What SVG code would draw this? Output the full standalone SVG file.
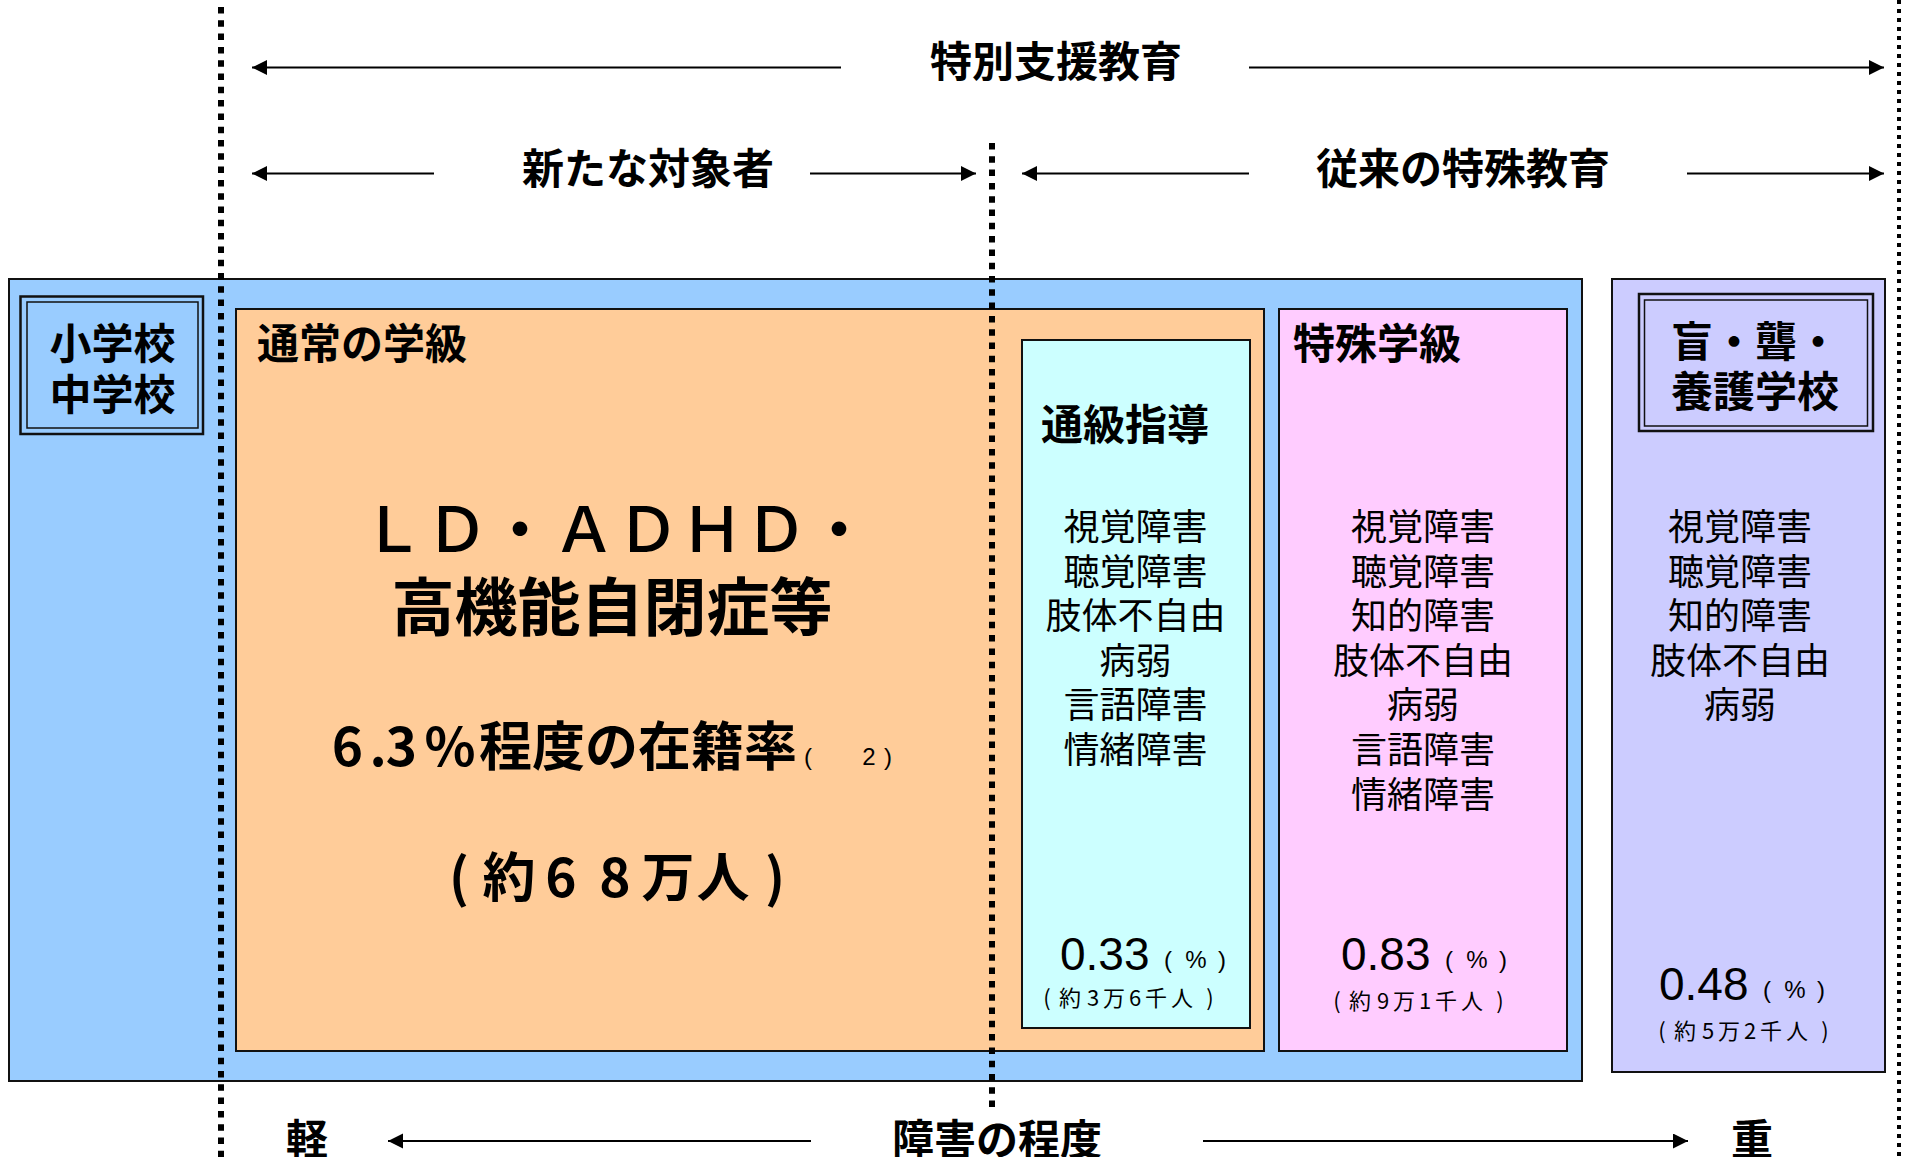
<svg xmlns="http://www.w3.org/2000/svg" width="1914" height="1157" viewBox="0 0 1914 1157">
<style>
.jp{font-family:"Noto Sans CJK JP","Noto Sans CJK SC",sans-serif;fill:#000}
.h{font-size:42px;font-weight:bold}
.li{font-size:36px;font-weight:normal}
.num{font-family:"Liberation Sans",Arial,sans-serif;font-size:46px;fill:#000}
.pc{font-family:"Liberation Sans",Arial,sans-serif;font-size:24px;fill:#000}
.sm{font-size:22px}
.box{stroke:#111;stroke-width:2}
.arr{stroke:#000;stroke-width:2.2;fill:none;marker-end:url(#ah)}
.dot{stroke:#000;stroke-width:6;stroke-dasharray:6.5 6.8;fill:none}
</style>
<defs>
<marker id="ah" markerUnits="userSpaceOnUse" markerWidth="16" markerHeight="16" refX="15" refY="7.5" orient="auto">
<path d="M0,0 L15,7.5 L0,15 z" fill="#000"/>
</marker>
</defs>
<rect width="1914" height="1157" fill="#fff"/>

<g id="school-outer">
<rect class="box" x="9" y="279" width="1573" height="802" fill="#99CCFF"/>
</g>
<g id="shogakko">
<rect x="20.5" y="296.5" width="182.5" height="137.5" fill="#99CCFF" stroke="#111" stroke-width="2.5"/>
<rect x="27" y="302" width="171" height="126" fill="none" stroke="#111" stroke-width="1.5"/>
<text class="jp h" x="112.5" y="359" text-anchor="middle">小学校</text>
<text class="jp h" x="112.5" y="410" text-anchor="middle">中学校</text>
</g>
<g id="tsujo">
<rect class="box" x="236" y="309" width="1028" height="742" fill="#FFCC99"/>
<text class="jp h" x="257" y="359">通常の学級</text>
<text class="jp" font-size="63" font-weight="500" x="393 457 520 584 648 712 776 839" y="552" text-anchor="middle">ＬＤ・ＡＤＨＤ・</text>
<text class="jp" font-size="63" font-weight="bold" x="612" y="630" text-anchor="middle">高機能自閉症等</text>
<text class="jp" font-size="53" font-weight="bold" y="766"><tspan x="347.5" text-anchor="middle">6</tspan><tspan x="378" text-anchor="middle">.</tspan><tspan x="401.5" text-anchor="middle">3</tspan><tspan x="450" text-anchor="middle">%</tspan><tspan x="479">程度の在籍率</tspan></text>
<text class="pc" font-size="20" x="808 869 888" y="765" text-anchor="middle">(2)</text>
<text class="jp" font-size="53" font-weight="bold" x="459 509 561 615 668 723 775" y="897" text-anchor="middle">(約68万人)</text>
</g>
<g id="tsukyu">
<rect class="box" x="1022" y="340" width="228" height="688" fill="#CCFFFF"/>
<text class="jp h" x="1041" y="440">通級指導</text>
<text class="jp li" text-anchor="middle"><tspan x="1135.5" y="540">視覚障害</tspan><tspan x="1135.5" dy="44.6">聴覚障害</tspan><tspan x="1135.5" dy="44.6">肢体不自由</tspan><tspan x="1135.5" dy="44.6">病弱</tspan><tspan x="1135.5" dy="44.6">言語障害</tspan><tspan x="1135.5" dy="44.6">情緒障害</tspan></text>
<text class="num" x="1060" y="970">0.33</text>
<text class="pc" x="1168 1196 1222" y="968" text-anchor="middle">(%)</text>
<text class="jp sm" x="1047 1070 1093 1114 1135 1156 1182 1210" y="1006" text-anchor="middle">(約3万6千人)</text>
</g>
<g id="tokushu">
<rect class="box" x="1279" y="309" width="288" height="742" fill="#FFCCFF"/>
<text class="jp h" x="1293" y="359">特殊学級</text>
<text class="jp li" text-anchor="middle"><tspan x="1423" y="540">視覚障害</tspan><tspan x="1423" dy="44.6">聴覚障害</tspan><tspan x="1423" dy="44.6">知的障害</tspan><tspan x="1423" dy="44.6">肢体不自由</tspan><tspan x="1423" dy="44.6">病弱</tspan><tspan x="1423" dy="44.6">言語障害</tspan><tspan x="1423" dy="44.6">情緒障害</tspan></text>
<text class="num" x="1341" y="970">0.83</text>
<text class="pc" x="1449 1477 1503" y="968" text-anchor="middle">(%)</text>
<text class="jp sm" x="1337 1360 1383 1404 1425 1446 1472 1500" y="1009" text-anchor="middle">(約9万1千人)</text>
</g>
<g id="yogo">
<rect class="box" x="1612" y="279" width="273" height="793" fill="#CCCCFF"/>
<rect x="1639" y="294" width="234" height="137" fill="none" stroke="#111" stroke-width="2.5"/>
<rect x="1644.5" y="300" width="223" height="126" fill="none" stroke="#111" stroke-width="1.5"/>
<text class="jp h" x="1755" y="357" text-anchor="middle">盲・聾・</text>
<text class="jp h" x="1755" y="407" text-anchor="middle">養護学校</text>
<text class="jp li" text-anchor="middle"><tspan x="1740" y="540">視覚障害</tspan><tspan x="1740" dy="44.6">聴覚障害</tspan><tspan x="1740" dy="44.6">知的障害</tspan><tspan x="1740" dy="44.6">肢体不自由</tspan><tspan x="1740" dy="44.6">病弱</tspan></text>
<text class="num" x="1659" y="1000">0.48</text>
<text class="pc" x="1767 1795 1821" y="998" text-anchor="middle">(%)</text>
<text class="jp sm" x="1662 1685 1708 1729 1750 1771 1797 1825" y="1039" text-anchor="middle">(約5万2千人)</text>
</g>

<g id="labels">
<text class="jp h" x="1056" y="77" text-anchor="middle">特別支援教育</text>
<text class="jp h" x="648" y="184" text-anchor="middle">新たな対象者</text>
<text class="jp h" x="1463" y="184" text-anchor="middle">従来の特殊教育</text>
<text class="jp h" x="307" y="1155" text-anchor="middle">軽</text>
<text class="jp h" x="997" y="1155" text-anchor="middle">障害の程度</text>
<text class="jp h" x="1752" y="1155" text-anchor="middle">重</text>
</g>

<g id="connectors">
<line class="arr" x1="841" y1="67.5" x2="252" y2="67.5"/>
<line class="arr" x1="1249" y1="67.5" x2="1884" y2="67.5"/>
<line class="arr" x1="434" y1="173.5" x2="252" y2="173.5"/>
<line class="arr" x1="810" y1="173.5" x2="976" y2="173.5"/>
<line class="arr" x1="1249" y1="173.5" x2="1022" y2="173.5"/>
<line class="arr" x1="1687" y1="173.5" x2="1884" y2="173.5"/>
<line class="arr" x1="811" y1="1141" x2="388" y2="1141"/>
<line class="arr" x1="1203" y1="1141" x2="1688" y2="1141"/>
<line class="dot" x1="221" y1="7" x2="221" y2="1157"/>
<line class="dot" x1="992" y1="143" x2="992" y2="1111"/>
<line x1="1899" y1="0" x2="1899" y2="1157" stroke="#000" stroke-width="4" stroke-dasharray="4 5"/>
</g>
</svg>
